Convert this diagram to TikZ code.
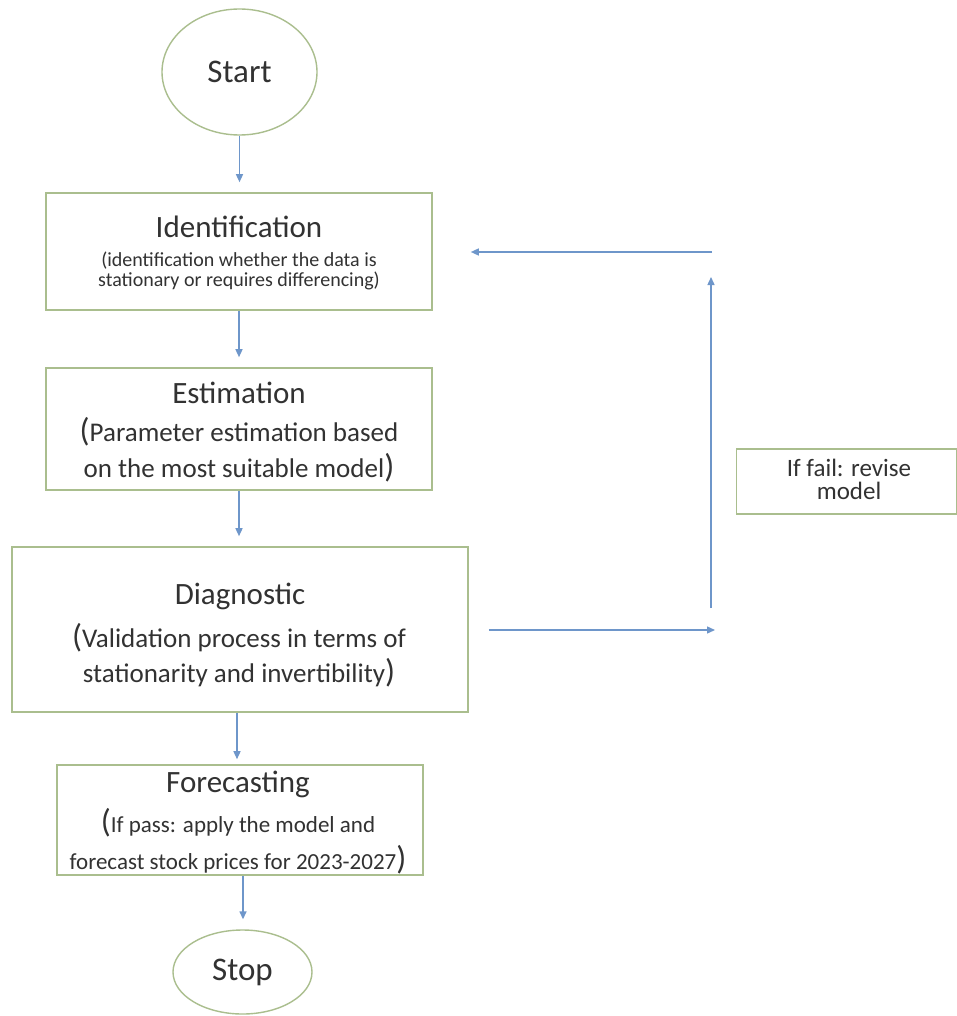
\documentclass[tikz,border=0pt]{standalone}
\usepackage{fontspec}
\setmainfont{Carlito}
\usetikzlibrary{arrows.meta,shapes.geometric}
\definecolor{boxgreen}{RGB}{170,190,142}
\definecolor{arrowblue}{RGB}{110,150,202}
\definecolor{txt}{RGB}{50,50,50}
\newcommand\bpar[1]{{\fontsize{33}{33}\selectfont #1}}
\tikzset{
  box/.style={draw=boxgreen, line width=1.6pt, rectangle, fill=white, inner sep=0pt},
  term/.style={draw=boxgreen, line width=1.4pt, ellipse, inner sep=0pt, text=txt, font=\fontsize{33}{33}\selectfont},
  ttl/.style={text=txt, inner sep=0pt, font=\fontsize{31}{31}\selectfont},
  sub/.style={text=txt, inner sep=0pt, align=center},
  arr/.style={draw=arrowblue, line width=1.4pt, -{Triangle[length=8pt,width=7pt]}},
}
\begin{document}
\begin{tikzpicture}[x=1pt,y={(0pt,-1pt)}]
\useasboundingbox[fill=white] (0,0) rectangle (957,1016);
% nodes
\node[term, minimum width=155pt, minimum height=126pt] (start) at (239.5,72) {Start};
\node[box, minimum width=386pt, minimum height=117pt] (ident) at (239,251.5) {};
\node[ttl] (identT) at (239,227) {Identification};
\node[sub, font=\fontsize{20}{20}\selectfont] (identS) at (239,271) {(identification whether the data is\\stationary or requires differencing)};
\node[box, minimum width=386pt, minimum height=122pt] (est) at (239,429) {};
\node[ttl] (estT) at (239,393) {Estimation};
\node[sub, font=\fontsize{27}{36}\selectfont] (estS) at (239,450) {\bpar{(}Parameter estimation based\\on the most suitable model\bpar{)}};
\node[box, minimum width=456pt, minimum height=165pt] (diag) at (240,629.5) {};
\node[ttl] (diagT) at (240,596) {Diagnostic};
\node[sub, font=\fontsize{27}{35}\selectfont] (diagS) at (239,655) {\bpar{(}Validation process in terms of\\stationarity and invertibility\bpar{)}};
\node[box, minimum width=366pt, minimum height=110pt] (fore) at (240,820) {};
\node[ttl] (foreT) at (238,784) {Forecasting};
\node[sub, font=\fontsize{23}{37}\selectfont] (foreS) at (238,841) {\bpar{(}If pass: apply the model and\\forecast stock prices for 2023-2027\bpar{)}};
\node[box, minimum width=220pt, minimum height=65pt] (fail) at (846.5,481.5) {};
\node[sub, font=\fontsize{25}{23}\selectfont] (failT) at (849,479) {If fail: revise\\model};
\node[term, minimum width=139pt, minimum height=84pt] (stop) at (242.5,972) {Stop};
% connectors
\draw[arr, shorten >=10pt] (start.south) -- (start.south |- ident.north);
\draw[arr, shorten >=10pt] (ident.south) -- (ident.south |- est.north);
\draw[arr, shorten >=10pt] (est.south) -- (est.south |- diag.north);
\draw[arr, shorten >=5pt] ([xshift=-3pt]diag.south) -- ([xshift=-3pt]diag.south |- fore.north);
\draw[arr, shorten >=10pt] ([xshift=3pt]fore.south) -- ([xshift=3pt]fore.south |- stop.north);
\coordinate (rt) at (715,630);
\draw[arr, shorten <=20pt] (diag.east |- rt) -- (rt);
\coordinate (vb) at (711,608);
\coordinate (vt) at (711,277);
\draw[arr] (vb) -- (vt);
\coordinate (hr) at (712,252);
\draw[arr, shorten >=38pt] (hr) -- (hr -| ident.east);
\end{tikzpicture}
\end{document}
